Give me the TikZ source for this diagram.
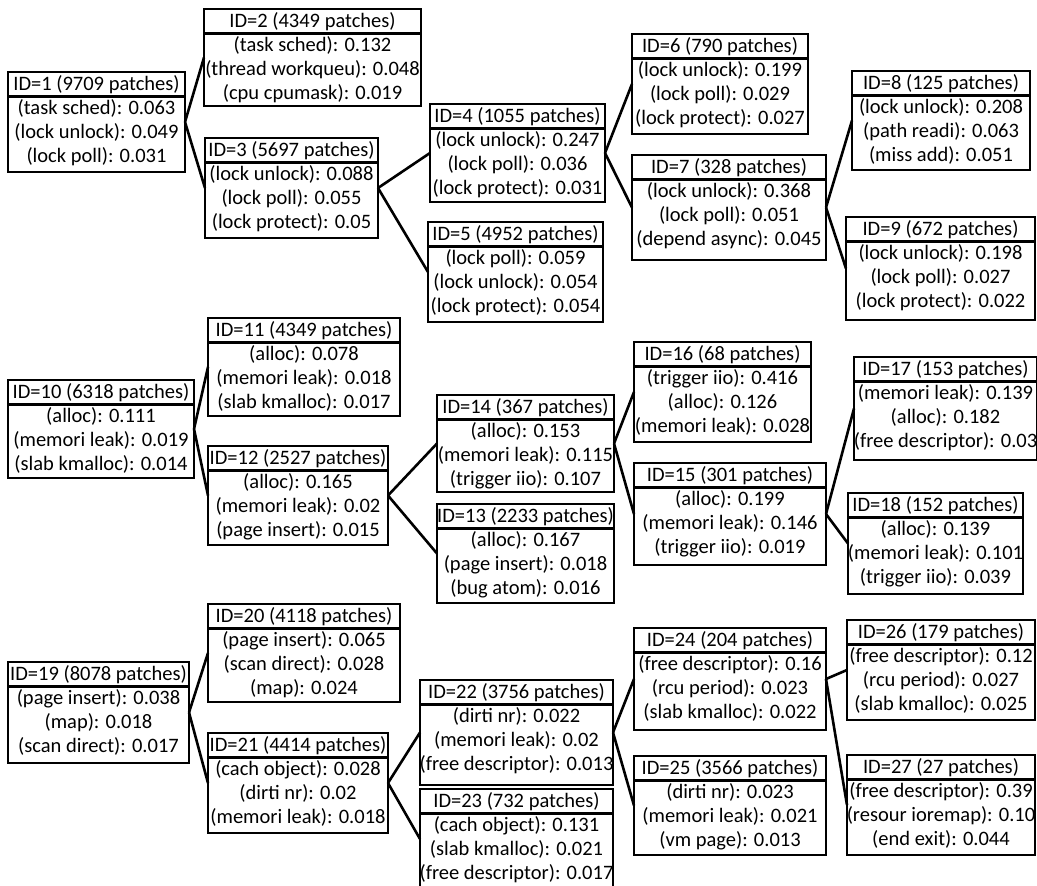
\documentclass[tikz,border=0pt]{standalone}
\usepackage{fontspec}
\setmainfont{Carlito}
\newcommand\tbx[9]{%
  \node[tbox, minimum width={(#4-#2)*1pt}, minimum height={(#5-#3)*1pt}, anchor=north west] (#1) at (#2,#3) {};
  \node[ttext, anchor=north] (#1t) at ([yshift=-3.5pt]#1.north) {#6\\#7\\#8\\#9};
  \draw[sepline] ([yshift=-24.5pt]#1.north west) -- ([yshift=-24.5pt]#1.north east);
}
\begin{document}
\begin{tikzpicture}[x=1pt,y=-1pt,
  tbox/.style={draw, line width=1.8pt, inner sep=0pt, outer sep=0pt},
  ttext/.style={inner sep=0pt, align=center, font=\fontsize{20.5}{24}\selectfont},
  sepline/.style={line width=3.5pt},
  conn/.style={line width=2.6pt}]
\useasboundingbox (0,0) rectangle (1037,886);
\clip (0,0) rectangle (1037,886);
\fill[white] (0,0) rectangle (1037,886);
% tree 1
\tbx{n1}{8}{72}{185}{172}{ID=1 (9709 patches)}{(task sched): 0.063}{(lock unlock): 0.049}{(lock poll): 0.031}
\tbx{n2}{204}{9}{421}{106}{ID=2 (4349 patches)}{(task sched): 0.132}{(thread workqueu): 0.048}{(cpu cpumask): 0.019}
\tbx{n3}{205}{138}{378}{238}{ID=3 (5697 patches)}{(lock unlock): 0.088}{(lock poll): 0.055}{(lock protect): 0.05}
\tbx{n4}{430}{104}{605}{202}{ID=4 (1055 patches)}{(lock unlock): 0.247}{(lock poll): 0.036}{(lock protect): 0.031}
\tbx{n5}{428}{222}{603}{322}{ID=5 (4952 patches)}{(lock poll): 0.059}{(lock unlock): 0.054}{(lock protect): 0.054}
\tbx{n6}{632}{34}{808}{134}{ID=6 (790 patches)}{(lock unlock): 0.199}{(lock poll): 0.029}{(lock protect): 0.027}
\tbx{n7}{632}{155}{826}{260}{ID=7 (328 patches)}{(lock unlock): 0.368}{(lock poll): 0.051}{(depend async): 0.045}
\tbx{n8}{852}{71}{1030}{170}{ID=8 (125 patches)}{(lock unlock): 0.208}{(path readi): 0.063}{(miss add): 0.051}
\tbx{n9}{846}{217}{1035}{320}{ID=9 (672 patches)}{(lock unlock): 0.198}{(lock poll): 0.027}{(lock protect): 0.022}
% tree 2
\tbx{n10}{8}{380}{194}{478}{ID=10 (6318 patches)}{(alloc): 0.111}{(memori leak): 0.019}{(slab kmalloc): 0.014}
\tbx{n11}{208}{318}{400}{416}{ID=11 (4349 patches)}{(alloc): 0.078}{(memori leak): 0.018}{(slab kmalloc): 0.017}
\tbx{n12}{208}{446}{388}{545}{ID=12 (2527 patches)}{(alloc): 0.165}{(memori leak): 0.02}{(page insert): 0.015}
\tbx{n13}{437}{504}{614}{603}{ID=13 (2233 patches)}{(alloc): 0.167}{(page insert): 0.018}{(bug atom): 0.016}
\tbx{n14}{437}{395}{614}{492}{ID=14 (367 patches)}{(alloc): 0.153}{(memori leak): 0.115}{(trigger iio): 0.107}
\tbx{n15}{634}{463}{826}{565}{ID=15 (301 patches)}{(alloc): 0.199}{(memori leak): 0.146}{(trigger iio): 0.019}
\tbx{n16}{634}{342}{811}{442}{ID=16 (68 patches)}{(trigger iio): 0.416}{(alloc): 0.126}{(memori leak): 0.028}
\tbx{n17}{854}{357}{1037}{460}{ID=17 (153 patches)}{(memori leak): 0.139}{(alloc): 0.182}{(free descriptor): 0.03}
\tbx{n18}{848}{493}{1023}{594}{ID=18 (152 patches)}{(alloc): 0.139}{(memori leak): 0.101}{(trigger iio): 0.039}
% tree 3
\tbx{n19}{8}{662}{189}{763}{ID=19 (8078 patches)}{(page insert): 0.038}{(map): 0.018}{(scan direct): 0.017}
\tbx{n20}{208}{604}{400}{702}{ID=20 (4118 patches)}{(page insert): 0.065}{(scan direct): 0.028}{(map): 0.024}
\tbx{n21}{208}{733}{388}{833}{ID=21 (4414 patches)}{(cach object): 0.028}{(dirti nr): 0.02}{(memori leak): 0.018}
\tbx{n22}{420}{680}{613}{785}{ID=22 (3756 patches)}{(dirti nr): 0.022}{(memori leak): 0.02}{(free descriptor): 0.013}
\tbx{n23}{420}{789}{613}{889}{ID=23 (732 patches)}{(cach object): 0.131}{(slab kmalloc): 0.021}{(free descriptor): 0.017}
\tbx{n24}{634}{628}{826}{730}{ID=24 (204 patches)}{(free descriptor): 0.16}{(rcu period): 0.023}{(slab kmalloc): 0.022}
\tbx{n25}{634}{756}{826}{855}{ID=25 (3566 patches)}{(dirti nr): 0.023}{(memori leak): 0.021}{(vm page): 0.013}
\tbx{n26}{847}{620}{1035}{720}{ID=26 (179 patches)}{(free descriptor): 0.12}{(rcu period): 0.027}{(slab kmalloc): 0.025}
\tbx{n27}{847}{755}{1035}{855}{ID=27 (27 patches)}{(free descriptor): 0.39}{(resour ioremap): 0.10}{(end exit): 0.044}
% connectors
\foreach \p/\c in {n1/n2,n1/n3,n3/n4,n3/n5,n4/n6,n4/n7,n7/n8,n7/n9,
                   n10/n11,n10/n12,n12/n14,n12/n13,n14/n16,n14/n15,n15/n17,n15/n18,
                   n19/n20,n19/n21,n21/n22,n21/n23,n22/n24,n22/n25,n24/n26,n24/n27}
  \draw[conn] (\p.east) -- (\c.west);
\end{tikzpicture}
\end{document}
